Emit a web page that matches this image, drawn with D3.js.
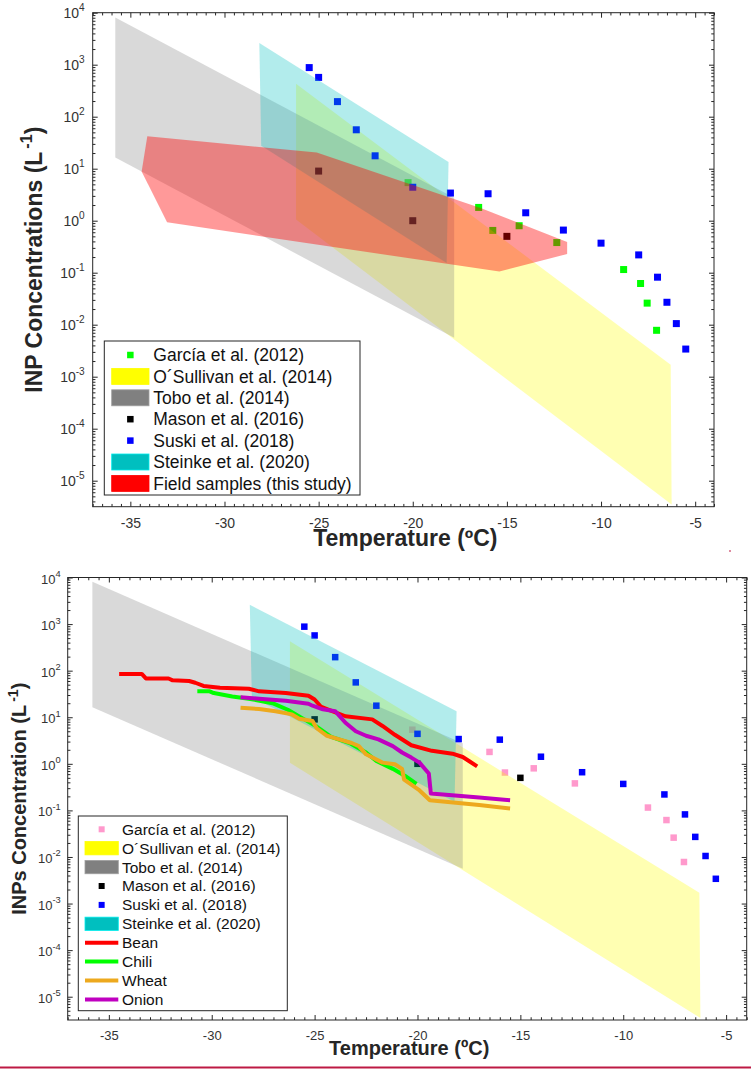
<!DOCTYPE html>
<html><head><meta charset="utf-8">
<script src="https://cdn.jsdelivr.net/npm/d3@7/dist/d3.min.js"></script>
<style>body{margin:0;background:#fff;} svg{display:block;font-family:Arial,"Liberation Sans",sans-serif;}</style>
</head><body><svg id="c" width="751" height="1069"></svg>
<script>
// ---------- data ----------
const tempTicks = [-35, -30, -25, -20, -15, -10, -5];
const yTickExps = [-5, -4, -3, -2, -1, 0, 1, 2, 3, 4];
const garcia = [[-20.25,5.4],[-16.5,1.8],[-15.75,0.65],[-14.35,0.8],[-12.35,0.38],[-8.8,0.115],[-7.9,0.062],[-7.55,0.026],[-7.05,0.0078]];
const mason = [[-25,9],[-20,1.0],[-15,0.5]];
const suski = [[-25.5,880],[-25,570],[-24,195],[-23,56],[-22,17.7],[-20,4.4],[-18,3.4],[-16,3.3],[-14,1.42],[-12,0.66],[-10,0.37],[-8,0.22],[-7,0.082],[-6.5,0.027],[-6,0.0105],[-5.5,0.0034]];
const tobo = [[-35.8,8100],[-17.8,2.75],[-17.8,0.0056],[-35.8,16.4]];
const osullivan = [[-26.2,430],[-6.3,0.0017],[-6.25,3.5e-6],[-26.2,1.05]];
const steinke = [[-28.15,2600],[-18.1,13.5],[-18.2,0.153],[-28.05,27.5]];
const field = [[-34.1,42],[-25.1,20.4],[-16.4,1.75],[-11.8,0.39],[-11.8,0.228],[-15.4,0.105],[-33.05,0.93],[-34.4,8.8]];
const bean = [[-34.5,85],[-33.4,85],[-33.2,68],[-32.1,68],[-31.9,62],[-31.1,60],[-30.8,55],[-30.4,47],[-29.6,43],[-28.2,41],[-27.7,36],[-26.4,33],[-25.3,29],[-25.0,24],[-24.7,17],[-24.4,15],[-23.5,10.5],[-22.2,9],[-21.7,6.5],[-21.1,4.2],[-20.3,2.5],[-19.3,1.9],[-18.3,1.65],[-17.8,1.4],[-17.5,1.15],[-17.1,0.88]];
const chili = [[-30.7,36],[-30.1,36],[-29.9,33],[-29.0,28],[-28.2,25],[-27.05,20],[-26.3,14.5],[-25.5,9],[-24.9,6.3],[-24.2,3.8],[-23.3,2.8],[-22.5,1.75],[-22.0,1.15],[-21.2,0.78],[-20.6,0.55],[-20.05,0.37]];
const wheat = [[-28.6,16],[-27.7,15],[-26.9,13.5],[-26.1,11.5],[-25.75,9.3],[-25.1,8.3],[-24.9,5.8],[-24.4,4],[-23.8,3.35],[-23.2,2.8],[-22.85,2.4],[-22.5,1.6],[-21.7,1.06],[-21.1,0.98],[-20.75,0.78],[-20.65,0.46],[-19.95,0.28],[-19.4,0.165],[-17.0,0.13],[-15.5,0.11]];
const onion = [[-28.6,27],[-27.7,25],[-26.4,22.5],[-25.3,19.5],[-25.1,17.7],[-24.6,14.8],[-24.0,13.5],[-23.5,7.6],[-23.0,5],[-22.5,4],[-21.9,3.35],[-21.2,2.4],[-20.75,1.75],[-20.3,1.36],[-19.9,1.06],[-19.45,0.62],[-19.35,0.23],[-17.0,0.19],[-15.5,0.165]];

const svg = d3.select('#c');
const AX = '#262626';

function drawPanel(cfg) {
  const x = d3.scaleLinear().domain([-37, -4]).range([cfg.left, cfg.right]);
  const y = d3.scaleLog().domain([Math.pow(10, -5.5), 1e4]).range([cfg.bottom, cfg.top]);
  const g = svg.append('g');
  const clipId = 'clip' + cfg.id;
  svg.append('clipPath').attr('id', clipId).append('rect')
    .attr('x', cfg.left).attr('y', cfg.top).attr('width', cfg.right - cfg.left).attr('height', cfg.bottom - cfg.top);
  const plot = g.append('g').attr('clip-path', `url(#${clipId})`);
  const ms = cfg.ms;
  cfg.layers.forEach(L => {
    if (L.type === 'marker') {
      plot.append('g').selectAll('rect').data(L.data).join('rect')
        .attr('x', d => x(d[0]) - ms / 2).attr('y', d => y(d[1]) - ms / 2)
        .attr('width', ms).attr('height', ms).attr('fill', L.color);
    } else if (L.type === 'fill') {
      plot.append('path').datum(L.data)
        .attr('d', d3.line().x(d => x(d[0])).y(d => y(d[1])).curve(d3.curveLinearClosed))
        .attr('fill', L.color).attr('fill-opacity', L.alpha).attr('stroke', 'none');
    } else {
      plot.append('path').datum(L.data)
        .attr('d', d3.line().x(d => x(d[0])).y(d => y(d[1])))
        .attr('fill', 'none').attr('stroke', L.color).attr('stroke-width', cfg.lw)
        .attr('stroke-linejoin', 'round').attr('stroke-linecap', 'butt');
    }
  });

  // axes
  const minorX = d3.range(-37, -3.99, 0.5).filter(v => Math.abs(v % 5) > 1e-6);
  const minorY = [];
  for (let e = -6; e < 4; e++) for (let m = 2; m <= 9; m++) {
    const v = m * Math.pow(10, e);
    if (v >= Math.pow(10, -5.5) && v <= 1e4) minorY.push(v);
  }
  const majY = yTickExps.map(e => Math.pow(10, e));
  const style = sel => { sel.select('.domain').remove(); sel.selectAll('line').attr('stroke', AX); };

  const xb = g.append('g').attr('transform', `translate(0,${cfg.bottom})`)
    .call(d3.axisBottom(x).tickValues(tempTicks).tickSize(-cfg.tl).tickPadding(cfg.xPad).tickFormat(d3.format('d')));
  xb.call(style);
  xb.selectAll('text').attr('fill', '#333').attr('font-size', cfg.tf).attr('font-family', 'Arial, Liberation Sans, sans-serif')
    .text(d => String(d).replace('\u2212', '-'));
  g.append('g').attr('transform', `translate(0,${cfg.bottom})`)
    .call(d3.axisBottom(x).tickValues(minorX).tickSize(-cfg.tl * 0.55).tickFormat('')).call(style);
  g.append('g').attr('transform', `translate(0,${cfg.top})`)
    .call(d3.axisTop(x).tickValues(tempTicks).tickSize(-cfg.tl).tickFormat('')).call(style);
  g.append('g').attr('transform', `translate(0,${cfg.top})`)
    .call(d3.axisTop(x).tickValues(minorX).tickSize(-cfg.tl * 0.55).tickFormat('')).call(style);

  const yl = g.append('g').attr('transform', `translate(${cfg.left},0)`)
    .call(d3.axisLeft(y).tickValues(majY).tickSize(-cfg.tl).tickPadding(cfg.yPad).tickFormat(''));
  yl.call(style);
  yl.selectAll('.tick text').each(function (d) {
    const t = d3.select(this);
    t.attr('dy', cfg.yDy).attr('fill', '#333').attr('font-size', cfg.tf).attr('font-family', 'Arial, Liberation Sans, sans-serif');
    t.text(null);
    t.append('tspan').text('10');
    t.append('tspan').attr('dy', -cfg.supRaise).attr('font-size', cfg.tf * 0.72).text(String(Math.round(Math.log10(d))));
  });
  g.append('g').attr('transform', `translate(${cfg.left},0)`)
    .call(d3.axisLeft(y).tickValues(minorY).tickSize(-cfg.tl * 0.55).tickFormat('')).call(style);
  g.append('g').attr('transform', `translate(${cfg.right},0)`)
    .call(d3.axisRight(y).tickValues(majY).tickSize(-cfg.tl).tickFormat('')).call(style);
  g.append('g').attr('transform', `translate(${cfg.right},0)`)
    .call(d3.axisRight(y).tickValues(minorY).tickSize(-cfg.tl * 0.55).tickFormat('')).call(style);

  g.append('rect').attr('x', cfg.left).attr('y', cfg.top).attr('width', cfg.right - cfg.left)
    .attr('height', cfg.bottom - cfg.top).attr('fill', 'none').attr('stroke', AX).attr('stroke-width', 1);

  // axis labels
  g.append('text').attr('x', (cfg.left + cfg.right) / 2 + 2).attr('y', cfg.xLabelY)
    .attr('text-anchor', 'middle').attr('font-weight', 'bold').attr('font-size', cfg.lf).attr('fill', '#262626')
    .text('Temperature (\u00BAC)');
  const ylab = g.append('text').attr('transform', `translate(${cfg.yLabelX},${(cfg.top + cfg.bottom) / 2}) rotate(-90)`)
    .attr('text-anchor', 'middle').attr('font-weight', 'bold').attr('font-size', cfg.lf).attr('fill', '#262626');
  ylab.append('tspan').text(cfg.yLabel + ' (L');
  ylab.append('tspan').attr('dx', 3).attr('dy', -cfg.lf * 0.42).attr('font-size', cfg.lf * 0.7).text('-1');
  ylab.append('tspan').attr('dy', cfg.lf * 0.42).text(')');

  // legend
  const lg = cfg.legend;
  g.append('rect').attr('x', lg.x).attr('y', lg.y).attr('width', lg.w).attr('height', lg.h)
    .attr('fill', '#fff').attr('stroke', AX).attr('stroke-width', 1);
  lg.items.forEach((it, i) => {
    const cy = lg.firstY + i * lg.step;
    if (it.type === 'marker') {
      g.append('rect').attr('x', lg.px + lg.pw / 2 - lg.ms / 2).attr('y', cy - lg.ms / 2)
        .attr('width', lg.ms).attr('height', lg.ms).attr('fill', it.color);
    } else if (it.type === 'fill') {
      g.append('rect').attr('x', lg.px).attr('y', cy - lg.ph / 2).attr('width', lg.pw).attr('height', lg.ph)
        .attr('fill', it.color).attr('stroke', d3.color(it.color).brighter(0.6)).attr('stroke-width', 0.8);
    } else {
      g.append('line').attr('x1', lg.px).attr('x2', lg.px + lg.pw).attr('y1', cy).attr('y2', cy)
        .attr('stroke', it.color).attr('stroke-width', cfg.lw);
    }
    g.append('text').attr('x', lg.tx).attr('y', cy).attr('dy', '0.35em').attr('font-size', lg.fs)
      .attr('fill', '#111').text(it.label);
  });
}

const cGarciaTop = '#00ff00', cGarciaBot = '#ff99cc', cMason = '#000000', cSuski = '#0000ff';
const cOS = '#ffff00', cTobo = '#808080', cSteinke = '#00bfbf', cField = '#ff0000';

drawPanel({
  id: 'a', left: 92.7, right: 714, top: 12.7, bottom: 506.7, tf: 14, lf: 23, tl: 5, ms: 7, lw: 4,
  xPad: 11, yPad: 8, yDy: 5, supRaise: 7, xLabelY: 546, yLabelX: 42, yLabel: 'INP Concentrations',
  layers: [
    { type: 'marker', data: garcia, color: cGarciaTop },
    { type: 'fill', data: osullivan, color: cOS, alpha: 0.3 },
    { type: 'fill', data: tobo, color: cTobo, alpha: 0.3 },
    { type: 'marker', data: mason, color: cMason },
    { type: 'marker', data: suski, color: cSuski },
    { type: 'fill', data: steinke, color: cSteinke, alpha: 0.3 },
    { type: 'fill', data: field, color: cField, alpha: 0.4 }
  ],
  legend: {
    x: 104.3, y: 341, w: 255.7, h: 154, firstY: 355, step: 21.4, px: 111.7, pw: 37.3, ph: 16, ms: 6.5, tx: 153.3, fs: 17.5,
    items: [
      { type: 'marker', color: cGarciaTop, label: 'García et al. (2012)' },
      { type: 'fill', color: cOS, label: 'O\u00B4Sullivan et al. (2014)' },
      { type: 'fill', color: cTobo, label: 'Tobo et al. (2014)' },
      { type: 'marker', color: cMason, label: 'Mason et al. (2016)' },
      { type: 'marker', color: cSuski, label: 'Suski et al. (2018)' },
      { type: 'fill', color: cSteinke, label: 'Steinke et al. (2020)' },
      { type: 'fill', color: cField, label: 'Field samples (this study)' }
    ]
  }
});

drawPanel({
  id: 'b', left: 67.7, right: 746.7, top: 577.5, bottom: 1020, tf: 13, lf: 20, tl: 5, ms: 6.5, lw: 4,
  xPad: 10.5, yPad: 7, yDy: 5.5, supRaise: 6.5, xLabelY: 1055, yLabelX: 26, yLabel: 'INPs Concentration',
  layers: [
    { type: 'marker', data: garcia, color: cGarciaBot },
    { type: 'fill', data: osullivan, color: cOS, alpha: 0.3 },
    { type: 'fill', data: tobo, color: cTobo, alpha: 0.3 },
    { type: 'marker', data: mason, color: cMason },
    { type: 'marker', data: suski, color: cSuski },
    { type: 'fill', data: steinke, color: cSteinke, alpha: 0.3 },
    { type: 'line', data: bean, color: '#ff0000' },
    { type: 'line', data: chili, color: '#00ff00' },
    { type: 'line', data: wheat, color: '#eda91e' },
    { type: 'line', data: onion, color: '#c000c0' }
  ],
  legend: {
    x: 78.3, y: 816, w: 209, h: 194.7, firstY: 829.3, step: 18.9, px: 85, pw: 33.3, ph: 13.3, ms: 6, tx: 122, fs: 15.5,
    items: [
      { type: 'marker', color: cGarciaBot, label: 'García et al. (2012)' },
      { type: 'fill', color: cOS, label: 'O\u00B4Sullivan et al. (2014)' },
      { type: 'fill', color: cTobo, label: 'Tobo et al. (2014)' },
      { type: 'marker', color: cMason, label: 'Mason et al. (2016)' },
      { type: 'marker', color: cSuski, label: 'Suski et al. (2018)' },
      { type: 'fill', color: cSteinke, label: 'Steinke et al. (2020)' },
      { type: 'line', color: '#ff0000', label: 'Bean' },
      { type: 'line', color: '#00ff00', label: 'Chili' },
      { type: 'line', color: '#eda91e', label: 'Wheat' },
      { type: 'line', color: '#c000c0', label: 'Onion' }
    ]
  }
});

// page decorations
svg.append('rect').attr('x', 0).attr('y', 1066.5).attr('width', 751).attr('height', 2).attr('fill', '#bd1a44');
svg.append('rect').attr('x', 729.5).attr('y', 550).attr('width', 1).attr('height', 2).attr('fill', '#bd1a44');
</script></body></html>
